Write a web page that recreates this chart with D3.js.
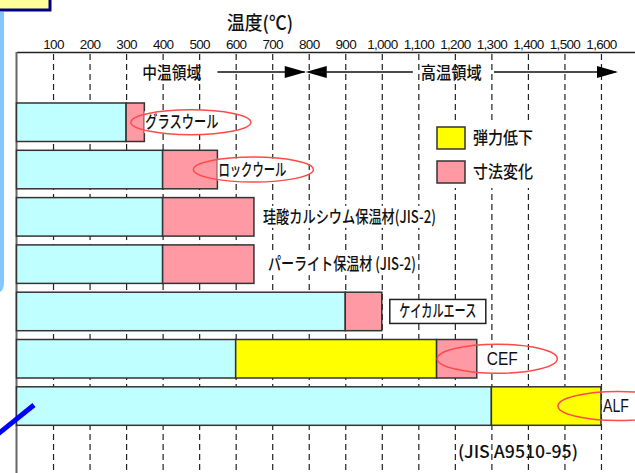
<!DOCTYPE html>
<html>
<head>
<meta charset="utf-8">
<script src="https://cdn.jsdelivr.net/npm/d3@7"></script>
<style>
  body { margin: 0; background: #fff; }
  svg { display: block; }
  .jp { font-family: "Noto Sans CJK JP", "Noto Sans", sans-serif; fill: #111; font-weight: 500; }
  .num { font-family: "Liberation Sans Narrow", "Liberation Sans", Arial, sans-serif; fill: #111; }
</style>
</head>
<body>
<script>
// materials, top to bottom
var materials = ['グラスウール', 'ロックウール', '珪酸カルシウム保温材(JIS-2)', 'パーライト保温材 (JIS-2)', 'ケイカルエース', 'CEF', 'ALF']
// upper limit of normal use (°C)
var safeLimit = [300, 400, 400, 400, 900, 600, 1300]
// end of 弾力低下 zone (null = none)
var elasticEnd = [null, null, null, null, null, 1150, 1600]
// end of 寸法変化 zone (null = none)
var dimensionEnd = [350, 550, 650, 650, 1000, 1260, null]
var tickValues = [100, 200, 300, 400, 500, 600, 700, 800, 900, 1000, 1100, 1200, 1300, 1400, 1500, 1600]
var regionNames = ['中温領域', '高温領域']
var legendNames = ['弾力低下', '寸法変化']

var colors = { safe: '#C0FFFF', elastic: '#FFFF00', dimension: '#FF99A3' }

var W = 635
var H = 473
var axisY = 52

var svg = d3.select('body')
  .append('svg')
  .attr('width', W)
  .attr('height', H)

var x = d3.scaleLinear()
  .domain([0, 1700])
  .range([16.5, 637.5])

var y = d3.scaleBand()
  .domain(materials)
  .range([98.6, 429.7])
  .paddingInner(0.186)
  .paddingOuter(0.093)

// slide decorations
svg.append('rect')
  .attr('x', -2).attr('y', -2).attr('width', 52).attr('height', 12)
  .attr('fill', '#FFFF99').attr('stroke', '#000080').attr('stroke-width', 3)
svg.append('path')
  .attr('d', 'M0,12 L4,12 L4,282 Q4,290 0,292 Z')
  .attr('fill', '#80C8FF')

// top axis with dashed grid
var axis = svg.append('g')
  .attr('transform', 'translate(0,' + axisY + ')')
  .call(d3.axisTop(x)
    .tickValues(tickValues)
    .tickSize(-(H - axisY))
    .tickSizeOuter(0)
    .tickPadding(3)
    .tickFormat(d3.format(',')))
axis.select('.domain').attr('stroke', '#222').attr('stroke-width', 1.5)
axis.selectAll('.tick line')
  .attr('stroke', '#222')
  .attr('stroke-width', 1.2)
  .attr('stroke-dasharray', '6,4')
  .attr('stroke-dashoffset', -2)
axis.selectAll('.tick text')
  .attr('class', 'num')
  .attr('font-size', 13.5)
  .attr('letter-spacing', -0.7)

svg.append('line')
  .attr('x1', x(0)).attr('x2', x(0))
  .attr('y1', axisY).attr('y2', H)
  .attr('stroke', '#666').attr('stroke-width', 2)

svg.append('text')
  .attr('class', 'jp')
  .attr('x', 260).attr('y', 30)
  .attr('text-anchor', 'middle')
  .attr('font-size', 19)
  .attr('textLength', 66).attr('lengthAdjust', 'spacingAndGlyphs')
  .text('温度(℃)')

// region arrows
var arrowY = 72
function head (tipX, dir) {
  var len = 21
  var hw = 6
  return 'M' + tipX + ',' + arrowY + ' L' + (tipX - dir * len) + ',' + (arrowY - hw) +
    ' L' + (tipX - dir * len) + ',' + (arrowY + hw) + ' Z'
}
var regions = svg.append('g')
regions.append('text').attr('class', 'jp')
  .attr('x', x(425)).attr('y', arrowY + 7)
  .attr('text-anchor', 'middle').attr('font-size', 17)
  .attr('textLength', 59).attr('lengthAdjust', 'spacingAndGlyphs')
  .text(regionNames[0])
regions.append('line')
  .attr('x1', x(550)).attr('x2', x(800) - 4)
  .attr('y1', arrowY).attr('y2', arrowY)
  .attr('stroke', '#111').attr('stroke-width', 1.3)
regions.append('path').attr('d', head(x(800) - 3, 1)).attr('fill', '#000')
regions.append('path').attr('d', head(x(800) - 3, -1)).attr('fill', '#000')
regions.append('line')
  .attr('x1', x(800)).attr('x2', x(1085))
  .attr('y1', arrowY).attr('y2', arrowY)
  .attr('stroke', '#111').attr('stroke-width', 1.3)
regions.append('text').attr('class', 'jp')
  .attr('x', x(1190)).attr('y', arrowY + 7)
  .attr('text-anchor', 'middle').attr('font-size', 17)
  .attr('textLength', 61).attr('lengthAdjust', 'spacingAndGlyphs')
  .text(regionNames[1])
regions.append('line')
  .attr('x1', x(1307)).attr('x2', x(1640))
  .attr('y1', arrowY).attr('y2', arrowY)
  .attr('stroke', '#111').attr('stroke-width', 1.3)
regions.append('path').attr('d', head(x(1600) + 17, 1)).attr('fill', '#000')

// bar segments
var segments = []
materials.forEach(function (m, i) {
  segments.push({ name: m, from: 0, to: safeLimit[i], kind: 'safe' })
  var last = safeLimit[i]
  if (elasticEnd[i] != null) {
    segments.push({ name: m, from: last, to: elasticEnd[i], kind: 'elastic' })
    last = elasticEnd[i]
  }
  if (dimensionEnd[i] != null) {
    segments.push({ name: m, from: last, to: dimensionEnd[i], kind: 'dimension' })
  }
})

svg.append('g')
  .selectAll('rect')
  .data(segments)
  .enter().append('rect')
  .attr('x', d => x(d.from))
  .attr('width', d => x(d.to) - x(d.from))
  .attr('y', d => y(d.name))
  .attr('height', y.bandwidth())
  .attr('fill', d => colors[d.kind])
  .attr('stroke', '#333')
  .attr('stroke-width', 1.5)

// labels
var labelGap = [1, 1, 9, 14, 8, 10, 2]
var labelWidth = [73, 68, 173, 148, 77, 31, 26]
var circled = [true, true, false, false, false, true, true]
var ellipseShift = [9, 1, 0, 0, 0, -5, 2]

var labels = svg.append('g')
materials.forEach(function (m, i) {
  var end = Math.max(safeLimit[i], elasticEnd[i] || 0, dimensionEnd[i] || 0)
  var lx = x(end) + labelGap[i]
  var cy = y(m) + y.bandwidth() / 2
  var isLatin = /^[A-Z]+$/.test(m)
  var g = labels.append('g')
  if (i === 4) {
    g.append('rect')
      .attr('x', lx).attr('y', cy - 12).attr('width', 96).attr('height', 24)
      .attr('fill', '#fff').attr('stroke', '#222').attr('stroke-width', 1.5)
    g.append('text').attr('class', 'jp')
      .attr('x', lx + 48).attr('y', cy + 6)
      .attr('text-anchor', 'middle')
      .attr('font-size', 17)
      .attr('textLength', labelWidth[i]).attr('lengthAdjust', 'spacingAndGlyphs')
      .text(m)
    return
  }
  g.append('rect')
    .attr('x', lx - 1).attr('y', cy - 11).attr('width', labelWidth[i] + 3).attr('height', 22)
    .attr('fill', '#fff')
  g.append('text')
    .attr('class', isLatin ? 'num' : 'jp')
    .attr('x', lx).attr('y', cy + 6)
    .attr('font-size', isLatin ? 18 : 17)
    .attr('textLength', labelWidth[i]).attr('lengthAdjust', 'spacingAndGlyphs')
    .text(m)
  if (circled[i]) {
    g.append('ellipse')
      .attr('cx', lx + labelWidth[i] / 2 + ellipseShift[i])
      .attr('cy', cy)
      .attr('rx', 60)
      .attr('ry', i >= 5 ? 14.5 : 12.5)
      .attr('fill', 'none')
      .attr('stroke', '#FF4A4A')
      .attr('stroke-width', 1.5)
  }
})

// source note
svg.append('text').attr('class', 'jp')
  .attr('x', 458).attr('y', 458)
  .attr('font-size', 17)
  .attr('textLength', 120).attr('lengthAdjust', 'spacingAndGlyphs')
  .text('(JIS A9510-95)')

// legend
var legend = svg.append('g').attr('transform', 'translate(437,127)')
legend.append('rect')
  .attr('x', -7).attr('y', -5).attr('width', 105).attr('height', 66)
  .attr('fill', '#fff')
legend.selectAll('.key')
  .data(legendNames)
  .enter().append('rect')
  .attr('x', 0)
  .attr('y', (d, i) => i * 34)
  .attr('width', 28)
  .attr('height', 22)
  .attr('fill', (d, i) => i === 0 ? colors.elastic : colors.dimension)
  .attr('stroke', '#333')
  .attr('stroke-width', 1.5)
legend.selectAll('.name')
  .data(legendNames)
  .enter().append('text')
  .attr('class', 'jp')
  .attr('x', 36)
  .attr('y', (d, i) => i * 34 + 17)
  .attr('font-size', 17)
  .attr('textLength', 60).attr('lengthAdjust', 'spacingAndGlyphs')
  .text(d => d)

// pointer stroke from slide
svg.append('line')
  .attr('x1', -2).attr('y1', 434).attr('x2', 34).attr('y2', 405)
  .attr('stroke', '#0000FF').attr('stroke-width', 5)
</script>
</body>
</html>
